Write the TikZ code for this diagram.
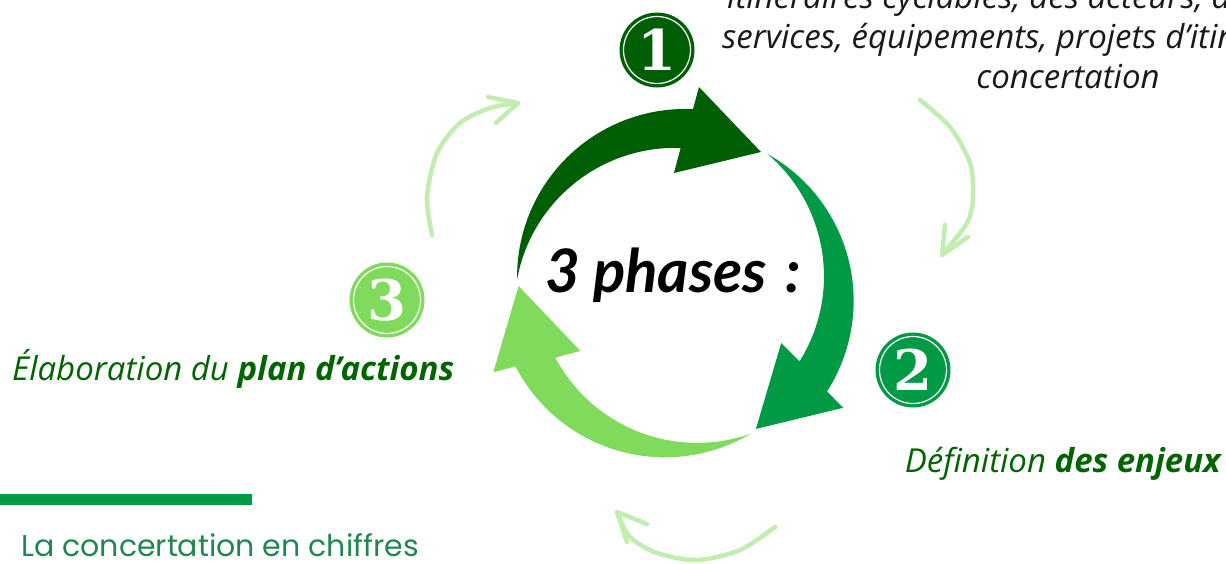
\documentclass[tikz,border=0pt]{standalone}
\usepackage{fontspec}
\setmainfont{Open Sans}
\newfontfamily\latof{Lato}
\newfontfamily\popf{Poppins}
\newfontfamily\numf{DejaVu Serif}
\definecolor{dkg}{RGB}{0,95,5}
\definecolor{mdg}{RGB}{0,154,68}
\definecolor{ltg}{RGB}{128,218,92}
\definecolor{pale}{RGB}{194,237,176}
\definecolor{txtg}{RGB}{0,100,0}
\definecolor{subg}{RGB}{32,135,80}
\tikzset{
  palearrow/.style={draw=pale, line width=4.5pt, line cap=round, line join=round},
  numdisc/.style={circle, minimum size=75pt, inner sep=0pt, text=white, font=\numf\bfseries\fontsize{56}{56}\selectfont},
  ring/.style={draw=white, line width=1.2pt},
  toptxt/.style={inner sep=0pt, text=black!90, font=\itshape\fontsize{33}{36}\selectfont},
  bodytxt/.style={inner sep=0pt, text=txtg, font=\itshape\fontsize{33}{36}\selectfont},
}
\begin{document}
\begin{tikzpicture}[x=1pt,y=-1pt]
\useasboundingbox (0,0) rectangle (1226,563);
\clip (0,0) rectangle (1226,563);

% pale hand-drawn arrows
\draw[palearrow] plot[smooth] coordinates {(432,235) (427,197) (437,153) (460,123) (490,108) (518,103)};
\draw[palearrow] (488,97) -- (518,103) -- (496,123);
\draw[palearrow] plot[smooth] coordinates {(920,100) (950,127) (970,163) (973,197) (967,223) (942,255)};
\draw[palearrow] (945,225) -- (942,255) -- (968,237);
\draw[palearrow] plot[smooth] coordinates {(775,527) (740,550) (697,560) (657,553) (630,537) (617,512)};
\draw[palearrow] (647,524) -- (617,512) -- (627,542);

% three big arrows (one shape, turned by 120 degrees about the cycle centre)
\foreach \o/\c in {240/ltg,120/mdg,0/dkg}{
  \begin{scope}[rotate around={-\o:(678.5,289)}]
    \fill[\c] (517.1,279.6) arc[start angle=179.1, end angle=272.7, radius=168]
      -- (699,87) -- (761,152) -- (674,173) -- (680.6,148)
      arc[start angle=272, end angle=190.4, radius=160.6] -- cycle;
  \end{scope}
}

% central title
\node[anchor=base west, inner sep=0pt, font=\latof\bfseries\itshape\fontsize{60}{62}\selectfont] (title) at (545,292) {3 phases\hspace{0.3em}:};

% number discs
\node[numdisc, fill=dkg] (n1) at (657,50) {1};
\draw[ring] (n1.center) circle[radius=33.5];
\node[numdisc, fill=mdg] (n2) at (913,370) {2};
\draw[ring] (n2.center) circle[radius=33.5];
\node[numdisc, fill=ltg] (n3) at (387,300) {3};
\draw[ring] (n3.center) circle[radius=33.5];

% phase texts
\node[toptxt, anchor=base west] (t1) at (727,8) {itinéraires cyclables, des acteurs, des};
\node[toptxt, anchor=base west] (t2) at (722,48) {services, équipements, projets d’itinéraires, de la};
\node[toptxt, anchor=base] (t3) at (1068,88) {concertation};
\node[bodytxt, anchor=base east] (p2) at (1221,472) {Définition \textbf{des enjeux}};
\node[bodytxt, anchor=base west] (p3) at (12,380) {Élaboration du \textbf{plan d’actions}};

% bottom bar and subtitle
\fill[mdg] (0,494) rectangle (252,505);
\node[anchor=base west, inner sep=0pt, text=subg, font=\popf\fontsize{30}{32}\selectfont] (sub) at (21,556) {La concertation en chiffres};
\end{tikzpicture}
\end{document}
